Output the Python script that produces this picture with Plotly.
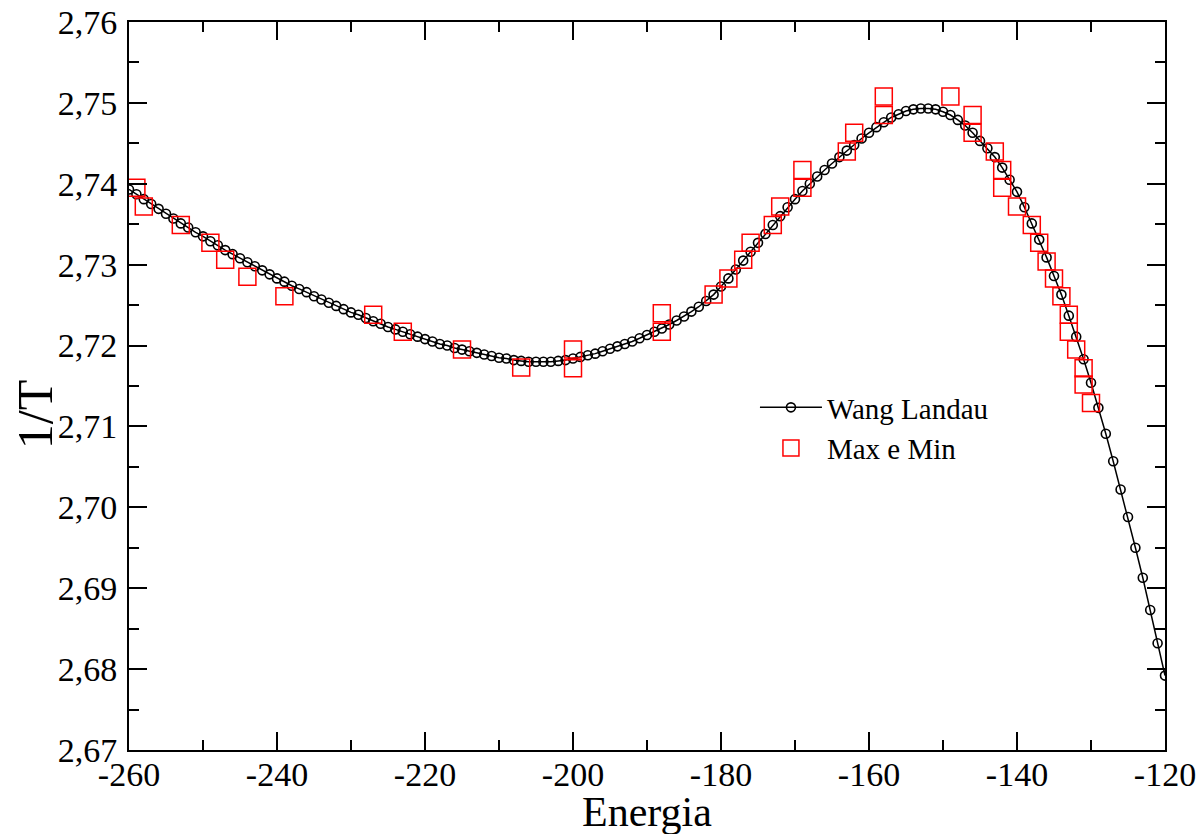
import plotly.graph_objects as go

# ---------------- data ----------------
energy_wl = [
    -260, -259, -258, -257, -256, -255, -254, -253, -252, -251,
    -250, -249, -248, -247, -246, -245, -244, -243, -242, -241,
    -240, -239, -238, -237, -236, -235, -234, -233, -232, -231,
    -230, -229, -228, -227, -226, -225, -224, -223, -222, -221,
    -220, -219, -218, -217, -216, -215, -214, -213, -212, -211,
    -210, -209, -208, -207, -206, -205, -204, -203, -202, -201,
    -200, -199, -198, -197, -196, -195, -194, -193, -192, -191,
    -190, -189, -188, -187, -186, -185, -184, -183, -182, -181,
    -180, -179, -178, -177, -176, -175, -174, -173, -172, -171,
    -170, -169, -168, -167, -166, -165, -164, -163, -162, -161,
    -160, -159, -158, -157, -156, -155, -154, -153, -152, -151,
    -150, -149, -148, -147, -146, -145, -144, -143, -142, -141,
    -140, -139, -138, -137, -136, -135, -134, -133, -132, -131,
    -130, -129, -128, -127, -126, -125, -124, -123, -122, -121,
    -120,
]
inv_t_wl = [
    2.7393, 2.7387, 2.7381, 2.7375, 2.7369, 2.7363, 2.7357, 2.7351, 2.7346, 2.7340,
    2.7335, 2.7329, 2.7324, 2.7318, 2.7313, 2.7308, 2.7303, 2.7298, 2.7293, 2.7288,
    2.7283, 2.7279, 2.7274, 2.7270, 2.7266, 2.7261, 2.7257, 2.7253, 2.7249, 2.7245,
    2.7241, 2.7238, 2.7234, 2.7230, 2.7227, 2.7223, 2.7220, 2.7217, 2.7214, 2.7211,
    2.7208, 2.7205, 2.7202, 2.7200, 2.7197, 2.7195, 2.7193, 2.7191, 2.7189, 2.7187,
    2.7185, 2.7184, 2.7182, 2.7181, 2.7180, 2.7180, 2.7180, 2.7180, 2.7181, 2.7182,
    2.7184, 2.7186, 2.7188, 2.7190, 2.7193, 2.7196, 2.7199, 2.7202, 2.7205, 2.7209,
    2.7213, 2.7217, 2.7221, 2.7226, 2.7231, 2.7236, 2.7242, 2.7248, 2.7255, 2.7263,
    2.7273, 2.7283, 2.7294, 2.7305, 2.7316, 2.7327, 2.7338, 2.7349, 2.7360, 2.7371,
    2.7381, 2.7391, 2.7400, 2.7409, 2.7417, 2.7425, 2.7433, 2.7441, 2.7448, 2.7456,
    2.7463, 2.7470, 2.7476, 2.7482, 2.7486, 2.7490, 2.7492, 2.7493, 2.7493, 2.7492,
    2.7489, 2.7485, 2.7479, 2.7472, 2.7463, 2.7453, 2.7444, 2.7433, 2.7420, 2.7405,
    2.7390, 2.7371, 2.7351, 2.7331, 2.7309, 2.7286, 2.7263, 2.7237, 2.7211, 2.7183,
    2.7154, 2.7123, 2.7091, 2.7057, 2.7022, 2.6988, 2.6950, 2.6913, 2.6873, 2.6832,
    2.6792,
]

mm_energy = [
    -259, -258, -253, -249, -247, -244, -239, -227, -223, -215,
    -207, -200, -200, -188, -188, -181, -179, -177, -176, -173,
    -172, -169, -169, -163, -162, -158, -158, -149, -146, -146,
    -143, -142, -142, -140, -138, -137, -136, -135, -134, -133,
    -133, -132, -131, -131, -130,
]
mm_inv_t = [
    2.7395, 2.7372, 2.7349, 2.7327, 2.7306, 2.7285, 2.7261, 2.7238, 2.7217, 2.7195,
    2.7173, 2.7195, 2.7172, 2.7240, 2.7217, 2.7263, 2.7283, 2.7306, 2.7327, 2.7349,
    2.7372, 2.7395, 2.7417, 2.7440, 2.7463, 2.7485, 2.7508, 2.7508, 2.7485, 2.7463,
    2.7440, 2.7417, 2.7395, 2.7372, 2.7349, 2.7327, 2.7304, 2.7283, 2.7261, 2.7238,
    2.7217, 2.7195, 2.7172, 2.7152, 2.7129,
]

x_tick_vals = [-260, -240, -220, -200, -180, -160, -140, -120]
x_tick_text = ["-260", "-240", "-220", "-200", "-180", "-160", "-140", "-120"]
y_tick_vals = [2.67, 2.68, 2.69, 2.70, 2.71, 2.72, 2.73, 2.74, 2.75, 2.76]
y_tick_text = ["2,67", "2,68", "2,69", "2,70", "2,71", "2,72", "2,73", "2,74", "2,75", "2,76"]

series_names = ["Wang Landau", "Max e Min"]
x_title = "Energia"
y_title = "1/T"

# ---------------- figure ----------------
FONT = "Liberation Serif, Times New Roman, serif"

fig = go.Figure()
fig.add_trace(go.Scatter(
    x=energy_wl, y=inv_t_wl, mode="lines+markers", name=series_names[0],
    line=dict(color="black", width=1.5),
    marker=dict(symbol="circle-open", size=9, color="black", line=dict(width=1.6)),
))
fig.add_trace(go.Scatter(
    x=mm_energy, y=mm_inv_t, mode="markers", name=series_names[1],
    marker=dict(symbol="square-open", size=17, color="#ff0000", line=dict(width=1.5)),
))

axis_common = dict(
    showgrid=False, zeroline=False, showline=True, linecolor="black", linewidth=2,
    mirror="allticks", ticks="inside", tickwidth=2, tickcolor="black",
    automargin=False, ticklabeloverflow="allow",
)

fig.update_xaxes(
    range=[-260, -120], tickmode="array", tickvals=x_tick_vals, ticktext=x_tick_text,
    ticklen=18, tickfont=dict(family=FONT, size=34, color="black"),
    ticklabelstandoff=-7,
    minor=dict(tick0=-260, dtick=10, ticks="inside", ticklen=10, tickwidth=2,
               tickcolor="black", showgrid=False),
    **axis_common,
)
fig.update_yaxes(
    range=[2.67, 2.76], tickmode="array", tickvals=y_tick_vals, ticktext=y_tick_text,
    ticklen=18, tickfont=dict(family=FONT, size=34, color="black"),
    ticklabelstandoff=3,
    minor=dict(tick0=2.67, dtick=0.005, ticks="inside", ticklen=10, tickwidth=2,
               tickcolor="black", showgrid=False),
    **axis_common,
)

# axis titles (placed as annotations for exact positioning)
fig.add_annotation(
    text=y_title, textangle=-90, xref="paper", yref="paper",
    x=-0.0907, y=0.46, xanchor="center", yanchor="middle", showarrow=False,
    font=dict(family=FONT, size=50, color="black"),
)
fig.add_annotation(
    text=x_title, xref="paper", yref="paper",
    x=0.5, y=-0.085, xanchor="center", yanchor="middle", showarrow=False,
    font=dict(family=FONT, size=42, color="black"),
)

fig.update_layout(
    width=1201, height=834,
    margin=dict(l=129, r=36, t=22, b=84, autoexpand=False),
    paper_bgcolor="white", plot_bgcolor="white",
    showlegend=True,
    legend=dict(
        x=0.6042, y=0.5055, xanchor="left", yanchor="top",
        bgcolor="rgba(0,0,0,0)", borderwidth=0,
        font=dict(family=FONT, size=29, color="black"),
        itemwidth=62,
    ),
)

# remove the default 8 px page margin so the figure fills the window exactly
fig.write_html(
    "out.html",
    config={"displayModeBar": False},
    post_script="document.body.style.margin='0';",
)
